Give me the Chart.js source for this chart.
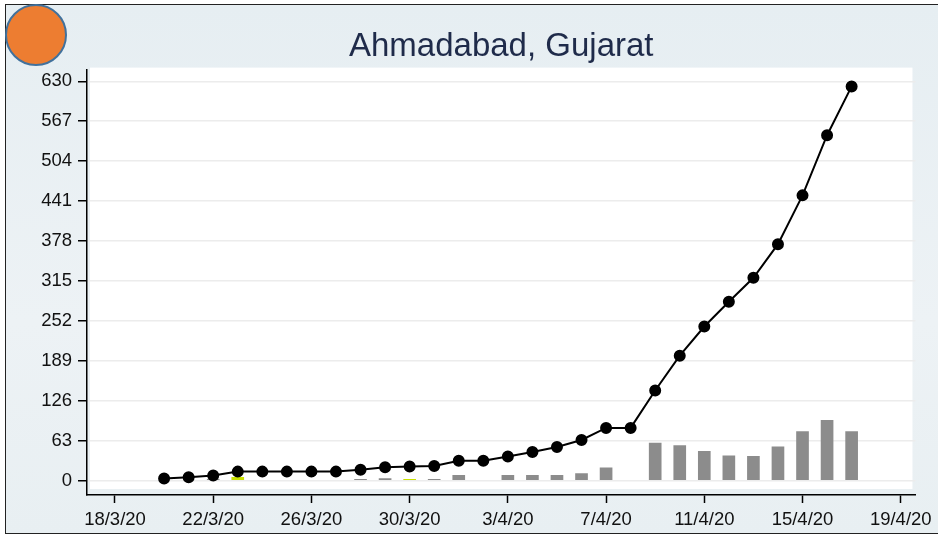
<!DOCTYPE html>
<html>
<head>
<meta charset="utf-8">
<script src="https://cdn.jsdelivr.net/npm/chart.js@4.4.1/dist/chart.umd.min.js"></script>
<style>
  html, body { margin: 0; padding: 0; background: #ffffff; }
  #wrap { position: relative; width: 938px; height: 535px; overflow: hidden; }
  #frame {
    position: absolute; left: 5px; top: 4px; width: 940px; height: 528px;
    border: 1.5px solid #222; background: linear-gradient(#e6eef2, #edf2f5 60%, #e8eff2);
  }
  #chart { position: absolute; left: 0; top: 0; }
  #badge {
    position: absolute; left: 5px; top: 4px; width: 58px; height: 58px;
    border-radius: 50%; background: #ed7d31; border: 2px solid #41719c;
  }
</style>
</head>
<body>
<div id="wrap">
  <div id="frame"></div>
  <canvas id="chart" width="938" height="535"></canvas>
  <div id="badge"></div>
</div>
<script>
// dates shown on the chart (d/m/yy)
var dates = ["20/3/20","21/3/20","22/3/20","23/3/20","24/3/20","25/3/20","26/3/20","27/3/20",
             "28/3/20","29/3/20","30/3/20","31/3/20","1/4/20","2/4/20","3/4/20","4/4/20",
             "5/4/20","6/4/20","7/4/20","8/4/20","9/4/20","10/4/20","11/4/20","12/4/20",
             "13/4/20","14/4/20","15/4/20","16/4/20","17/4/20"];
// cumulative cases (line)
var totalCases = [3, 5, 8, 14, 14, 14, 14, 14, 17, 21, 22, 23, 31, 31, 38, 45,
                  53, 64, 83, 83, 142, 197, 243, 282, 320, 373, 450, 545, 622];
// daily new cases (grey bars)
var newCases = [null, null, 2, null, null, null, null, null, 2, 3, null, 2, 8, null, 8, 8,
                8, 11, 20, null, 59, 55, 46, 39, 38, 53, 77, 95, 77];
// highlighted days (yellow bars)
var newCasesHi = [null, null, null, 5, null, null, null, null, null, null, 2, null, null, null, null, null,
                  null, null, null, null, null, null, null, null, null, null, null, null, null];
var xTickLabels = ["18/3/20","22/3/20","26/3/20","30/3/20","3/4/20","7/4/20","11/4/20","15/4/20","19/4/20"];
var yTicks = [0, 63, 126, 189, 252, 315, 378, 441, 504, 567, 630];

function dayNum(s) {
  var p = s.split("/");
  return (Date.UTC(2000 + (+p[2]), +p[1] - 1, +p[0]) - Date.UTC(2020, 2, 18)) / 86400000;
}
function pts(vals) {
  return dates.map(function(d, i) { return { x: dayNum(d), y: vals[i] }; });
}
var xTickPos = xTickLabels.map(dayNum);

var plotBg = {
  id: 'plotBg',
  beforeDraw: function(chart) {
    var a = chart.chartArea, ctx = chart.ctx;
    ctx.save();
    ctx.fillStyle = '#ffffff';
    ctx.fillRect(a.left + 3, a.top - 2, a.right - a.left - 6, a.bottom - a.top - 4);
    ctx.restore();
  }
};

new Chart(document.getElementById("chart"), {
  type: 'bar',
  data: {
    datasets: [{
      type: 'line',
      data: pts(totalCases),
      borderColor: '#000000',
      backgroundColor: '#000000',
      borderWidth: 2,
      pointRadius: 5,
      pointBackgroundColor: '#000000',
      tension: 0,
      order: 0
    }, {
      data: pts(newCases),
      backgroundColor: '#8c8c8c',
      barThickness: 12,
      grouped: false,
      order: 2
    }, {
      data: pts(newCasesHi),
      backgroundColor: '#c8e000',
      barThickness: 12,
      grouped: false,
      order: 1
    }]
  },
  options: {
    responsive: false,
    animation: false,
    layout: { padding: { left: 0, right: 20, top: 0, bottom: 0 } },
    plugins: {
      legend: { display: false },
      tooltip: { enabled: false },
      title: {
        display: true,
        text: 'Ahmadabad, Gujarat',
        fullSize: false,
        color: '#1f2b4a',
        font: { family: 'Liberation Sans, Arial, sans-serif', size: 33, weight: 'normal' },
        padding: { top: 27, bottom: 3 }
      }
    },
    scales: {
      x: {
        type: 'linear',
        offset: false,
        min: -1.14,
        max: 32.6,
        afterBuildTicks: function(s) { s.ticks = xTickPos.map(function(v) { return { value: v }; }); },
        afterFit: function(s) { s.height = 40; },
        ticks: {
          color: '#111111',
          padding: 6,
          maxRotation: 0,
          autoSkip: false,
          font: { family: 'Liberation Sans, Arial, sans-serif', size: 18.5 },
          callback: function(v) { var i = xTickPos.indexOf(v); return i >= 0 ? xTickLabels[i] : ''; }
        },
        grid: { offset: false, drawOnChartArea: false, tickLength: 8, tickColor: '#000000', tickWidth: 1.5 },
        border: { color: '#000000', width: 1.5 }
      },
      y: {
        min: -22.9,
        max: 648.5,
        afterBuildTicks: function(s) { s.ticks = yTicks.map(function(v) { return { value: v }; }); },
        afterFit: function(s) { s.width = 87; },
        ticks: {
          color: '#111111',
          padding: 6,
          font: { family: 'Liberation Sans, Arial, sans-serif', size: 18.5 },
          callback: function(v) { return v; }
        },
        grid: { color: '#ececec', lineWidth: 1.5, tickLength: 9, tickColor: '#000000', tickWidth: 1.5 },
        border: { color: '#000000', width: 1.5 }
      }
    }
  },
  plugins: [plotBg]
});
</script>
</body>
</html>
